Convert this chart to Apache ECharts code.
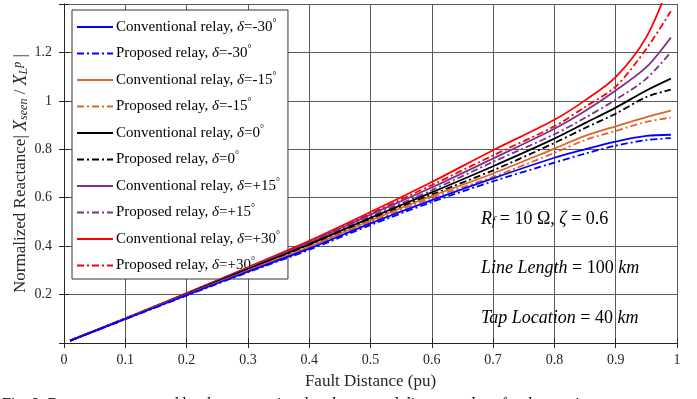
<!DOCTYPE html>
<html>
<head>
<meta charset="utf-8">
<script src="https://cdn.jsdelivr.net/npm/echarts@6/dist/echarts.min.js"></script>
<style>
  html, body { margin: 0; padding: 0; background: #fff; }
  #chart { width: 697px; height: 399px; }
</style>
</head>
<body>
<div id="chart"></div>
<script>
const faultDistance = [0.01, 0.1, 0.2, 0.3, 0.4, 0.5, 0.6, 0.7, 0.8, 0.85, 0.9, 0.95, 0.99];

// Normalized reactance |X_seen / X_L^p|
const convM30 = [0.010, 0.099, 0.198, 0.295, 0.390, 0.494, 0.590, 0.680, 0.765, 0.800, 0.832, 0.855, 0.860];
const propM30 = [0.010, 0.098, 0.196, 0.292, 0.385, 0.487, 0.582, 0.668, 0.745, 0.782, 0.815, 0.838, 0.846];
const convM15 = [0.010, 0.100, 0.200, 0.299, 0.397, 0.506, 0.607, 0.700, 0.803, 0.855, 0.895, 0.933, 0.960];
const propM15 = [0.010, 0.099, 0.199, 0.297, 0.394, 0.500, 0.600, 0.686, 0.785, 0.838, 0.876, 0.913, 0.931];
const conv0 = [0.010, 0.100, 0.202, 0.305, 0.408, 0.517, 0.622, 0.730, 0.844, 0.908, 0.972, 1.043, 1.092];
const prop0 = [0.010, 0.100, 0.201, 0.303, 0.404, 0.511, 0.613, 0.713, 0.826, 0.888, 0.947, 1.016, 1.046];
const convP15 = [0.010, 0.101, 0.204, 0.309, 0.415, 0.530, 0.642, 0.762, 0.885, 0.958, 1.043, 1.139, 1.262];
const propP15 = [0.010, 0.101, 0.203, 0.307, 0.412, 0.523, 0.631, 0.748, 0.862, 0.930, 1.005, 1.092, 1.201];
const convP30 = [0.010, 0.102, 0.206, 0.313, 0.422, 0.541, 0.665, 0.796, 0.922, 1.002, 1.098, 1.263, 1.500];
const propP30 = [0.010, 0.102, 0.205, 0.311, 0.418, 0.535, 0.652, 0.775, 0.895, 0.975, 1.059, 1.215, 1.370];

const seriesNames = [
  "Conventional relay, δ=-30°", "Proposed relay, δ=-30°",
  "Conventional relay, δ=-15°", "Proposed relay, δ=-15°",
  "Conventional relay, δ=0°", "Proposed relay, δ=0°",
  "Conventional relay, δ=+15°", "Proposed relay, δ=+15°",
  "Conventional relay, δ=+30°", "Proposed relay, δ=+30°"
];
const seriesValues = [convM30, propM30, convM15, propM15, conv0, prop0, convP15, propP15, convP30, propP30];
const seriesColors = ["#0000ff", "#0000ff", "#e0622a", "#e0622a", "#000000", "#000000",
  "#7e2f8e", "#7e2f8e", "#ff0000", "#ff0000"];

const yTickLabels = ["0.2", "0.4", "0.6", "0.8", "1", "1.2"];

const serif = "'Liberation Serif', 'DejaVu Serif', serif";
const axisColor = "#262626";

const chart = echarts.init(document.getElementById("chart"));

const series = seriesValues.map((vals, i) => ({
  name: seriesNames[i],
  type: "line",
  data: faultDistance.map((x, j) => [x, vals[j]]),
  smooth: 0.3,
  symbol: "none",
  clip: true,
  color: seriesColors[i],
  lineStyle: {
    width: 1.8,
    color: seriesColors[i],
    type: i % 2 === 0 ? "solid" : [7, 3, 2, 3],
  },
  z: 10 - Math.floor(i / 2),
}));

const option = {
  animation: false,
  grid: { left: 64, right: 20, top: 4, bottom: 56, show: false },
  legend: {
    orient: "vertical",
    left: 72,
    top: 10,
    padding: [8, 8, 6, 4],
    itemWidth: 36,
    itemHeight: 14,
    itemGap: 10,
    backgroundColor: "#fff",
    borderColor: "#333",
    borderWidth: 1,
    borderRadius: 0,
    data: seriesNames,
    itemStyle: { color: "transparent", borderWidth: 0, opacity: 0 },
    formatter: (name) => name.replace("δ", "{i|δ}").replace("°", "{s|°}"),
    textStyle: {
      fontFamily: serif,
      fontSize: 15,
      color: "#000",
      padding: [0, 0, 0, -2],
      rich: {
        i: { fontFamily: serif, fontSize: 15, fontStyle: "italic", color: "#000" },
        s: { fontFamily: serif, fontSize: 10, color: "#000", verticalAlign: "top", padding: [0, 0, 8, 0] },
      },
    },
  },
  xAxis: [
    {
      type: "value",
      min: 0,
      max: 1,
      interval: 0.1,
      name: "Fault Distance (pu)",
      nameLocation: "middle",
      nameGap: 30,
      nameMoveOverlap: false,
      nameTextStyle: { fontFamily: serif, fontSize: 17, color: axisColor },
      axisLine: { lineStyle: { color: axisColor } },
      axisTick: { inside: true, length: 5, lineStyle: { color: axisColor } },
      axisLabel: {
        margin: 10,
        fontFamily: serif,
        fontSize: 14,
        color: axisColor,
        formatter: (v) => String(+v.toFixed(1)),
      },
      splitLine: { show: true, lineStyle: { color: "#5a5a5a", width: 1 } },
    },
    {
      type: "value",
      position: "top",
      min: 0,
      max: 1,
      interval: 0.1,
      axisLine: { lineStyle: { color: axisColor } },
      axisTick: { inside: true, length: 5, lineStyle: { color: axisColor } },
      axisLabel: { show: false },
      splitLine: { show: false },
    },
  ],
  yAxis: [
    {
      type: "value",
      min: 0,
      max: 1.4,
      interval: 0.2,
      name: "Normalized Reactance| {i|X}{sub|seen}{n| / }{i|X}{sub|L}{sup|p}{n| |}",
      nameLocation: "middle",
      nameGap: 34,
      nameMoveOverlap: false,
      nameTextStyle: {
        fontFamily: serif,
        fontSize: 17,
        color: axisColor,
        rich: {
          i: { fontFamily: serif, fontSize: 18, fontStyle: "italic", color: axisColor },
          n: { fontFamily: serif, fontSize: 17, color: axisColor },
          sub: { fontFamily: serif, fontSize: 12, fontStyle: "italic", color: axisColor, verticalAlign: "bottom" },
          sup: { fontFamily: serif, fontSize: 12, fontStyle: "italic", color: axisColor, verticalAlign: "top" },
        },
      },
      axisLine: { show: true, lineStyle: { color: axisColor } },
      axisTick: { show: true, inside: true, length: 5, lineStyle: { color: axisColor } },
      axisLabel: {
        margin: 12,
        fontFamily: serif,
        fontSize: 14,
        color: axisColor,
        formatter: (v) => {
          const s = String(+v.toFixed(1));
          return yTickLabels.includes(s) ? s : "";
        },
      },
      splitLine: { show: true, lineStyle: { color: "#5a5a5a", width: 1 } },
    },
    {
      type: "value",
      position: "right",
      min: 0,
      max: 1.4,
      interval: 0.2,
      axisLine: { show: true, lineStyle: { color: axisColor } },
      axisTick: { show: true, inside: true, length: 5, lineStyle: { color: axisColor } },
      axisLabel: { show: false },
      splitLine: { show: false },
    },
  ],
  graphic: [
    {
      type: "text",
      left: 481,
      top: 210,
      z: 100,
      style: {
        text: "{i|R}{sub|f}{n| = 10 Ω, }{i|ζ}{n| = 0.6}",
        rich: {
          i: { fontFamily: serif, fontSize: 18, fontStyle: "italic", fill: "#000" },
          n: { fontFamily: serif, fontSize: 18, fill: "#000" },
          sub: { fontFamily: serif, fontSize: 12, fontStyle: "italic", fill: "#000", verticalAlign: "bottom" },
        },
      },
    },
    {
      type: "text",
      left: 481,
      top: 259,
      z: 100,
      style: {
        text: "{i|Line Length}{n| = 100 }{i|km}",
        rich: {
          i: { fontFamily: serif, fontSize: 18, fontStyle: "italic", fill: "#000" },
          n: { fontFamily: serif, fontSize: 18, fill: "#000" },
        },
      },
    },
    {
      type: "text",
      left: 481,
      top: 309,
      z: 100,
      style: {
        text: "{i|Tap Location}{n| = 40 }{i|km}",
        rich: {
          i: { fontFamily: serif, fontSize: 18, fontStyle: "italic", fill: "#000" },
          n: { fontFamily: serif, fontSize: 18, fill: "#000" },
        },
      },
    },
    {
      // figure caption, cut off by the bottom edge of the picture
      type: "text",
      left: 2,
      top: 397,
      style: {
        text: "Fig. 9: Reactance measured by the conventional and proposed distance relays for the tapping",
        fontFamily: serif,
        fontSize: 16,
        lineHeight: 2,
        fill: "#000",
      },
    },
  ],
  series: series,
};

chart.setOption(option);
</script>
</body>
</html>
